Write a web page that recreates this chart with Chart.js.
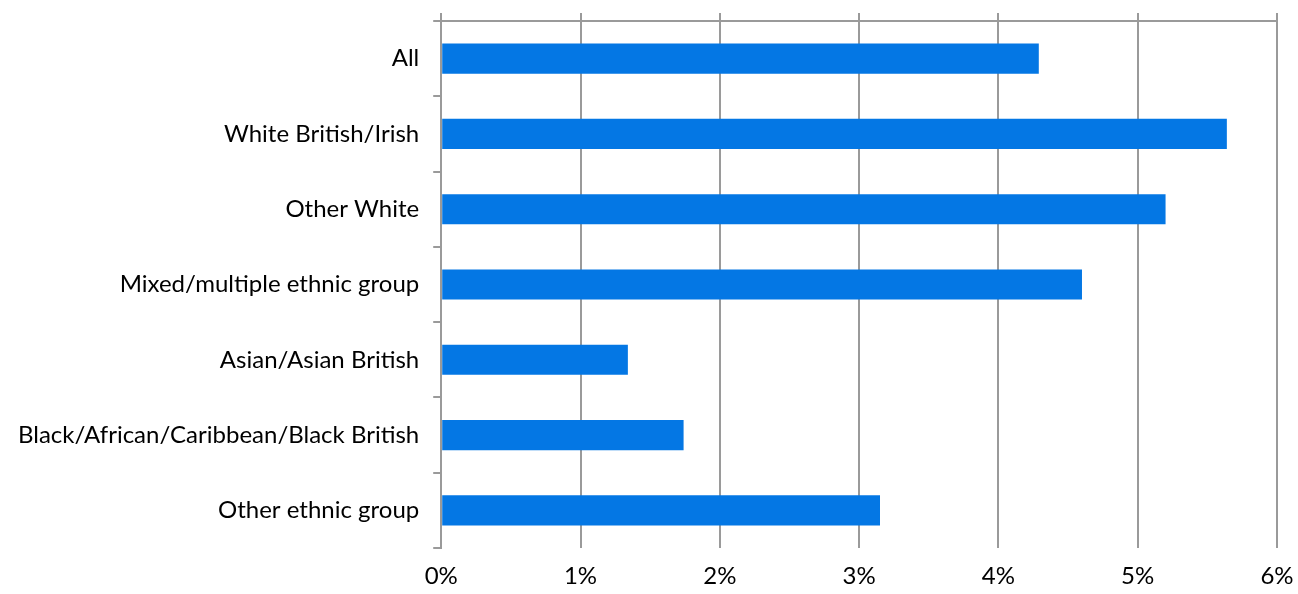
<!DOCTYPE html>
<html>
<head>
<meta charset="utf-8">
<script src="https://cdn.jsdelivr.net/npm/chart.js@4/dist/chart.umd.min.js"></script>
<style>
  html, body { margin: 0; padding: 0; background: #ffffff; }
  #wrap { width: 1298px; height: 594px; position: relative; }
</style>
</head>
<body>
<div id="wrap"><canvas id="chart"></canvas></div>
<script>
// Share of each ethnic group (percent)
const categories = [
  "All",
  "White British/Irish",
  "Other White",
  "Mixed/multiple ethnic group",
  "Asian/Asian British",
  "Black/African/Caribbean/Black British",
  "Other ethnic group"
];
const shareValues = [4.29, 5.64, 5.20, 4.60, 1.34, 1.74, 3.15];
const tickValues = [0, 1, 2, 3, 4, 5, 6];

const axisGrey = "#9a9a9a";
const barBlue = "#0477e4";
const fontFamily = "Lato, 'Open Sans', 'Liberation Sans', sans-serif";

// Keep label overhang out of the layout so the plot edges follow layout.padding
const noOverhang = (s) => { s.paddingTop = 0; s.paddingBottom = 0; s.paddingLeft = 0; s.paddingRight = 0; };

new Chart(document.getElementById("chart"), {
  type: "bar",
  data: {
    labels: categories,
    datasets: [{
      data: shareValues,
      backgroundColor: barBlue,
      borderWidth: 0,
      barPercentage: 0.8,
      categoryPercentage: 0.5
    }]
  },
  options: {
    indexAxis: "y",
    responsive: true,
    maintainAspectRatio: false,
    animation: false,
    layout: { padding: { left: 4, right: 21, top: 13, bottom: 3 } },
    plugins: { legend: { display: false }, tooltip: { enabled: false } },
    scales: {
      x: {
        position: "bottom",
        min: 0,
        max: 6,
        afterBuildTicks: (axis) => { axis.ticks = tickValues.map(v => ({ value: v })); },
        afterFit: (s) => { noOverhang(s); s.height = 43; },
        grid: { color: axisGrey, lineWidth: 2, drawTicks: false },
        border: { display: false },
        ticks: {
          padding: 14,
          color: "#000000",
          font: { family: fontFamily, size: 24 },
          callback: (v) => v + "%"
        }
      },
      xTop: {
        position: "top",
        min: 0,
        max: 6,
        afterBuildTicks: (axis) => { axis.ticks = tickValues.map(v => ({ value: v })); },
        afterFit: noOverhang,
        grid: { color: axisGrey, lineWidth: 2, drawOnChartArea: false, tickLength: 8 },
        border: { display: true, color: axisGrey, width: 2 },
        ticks: { display: false }
      },
      y: {
        afterFit: noOverhang,
        grid: { offset: true, color: axisGrey, lineWidth: 2, drawOnChartArea: false, tickLength: 8 },
        border: { display: true, color: axisGrey, width: 2 },
        ticks: {
          padding: 14,
          color: "#000000",
          font: { family: fontFamily, size: 24 }
        }
      }
    }
  }
});
</script>
</body>
</html>
